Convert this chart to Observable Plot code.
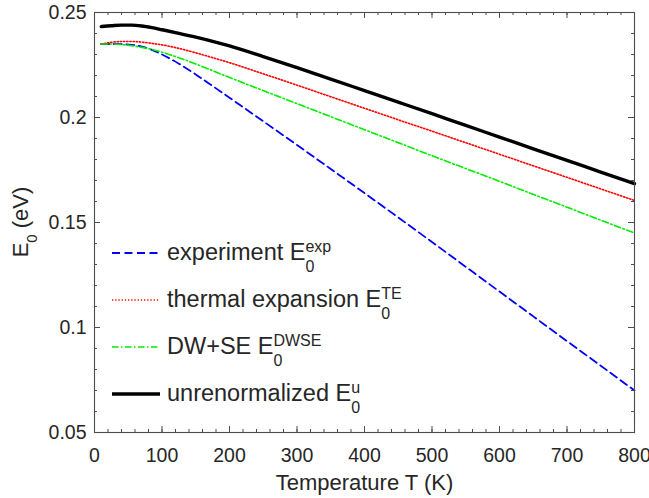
<!DOCTYPE html>
<html>
<head>
<meta charset="utf-8">
<script src="https://cdn.jsdelivr.net/npm/d3@7"></script>
<script src="https://cdn.jsdelivr.net/npm/@observablehq/plot@0.6"></script>
<style>
  body { margin: 0; background: #fff; }
</style>
</head>
<body>
<div id="chart"></div>
<script>
// Band-gap energy E0 versus temperature
const temperature = [10, 25, 40, 55, 70, 85, 100, 125, 150, 175, 200, 250, 300, 350, 400, 450, 500, 550, 600, 650, 700, 750, 800];
const eExperiment = [0.2350, 0.2350, 0.2349, 0.2346, 0.2338, 0.2322, 0.2300, 0.2256, 0.2205, 0.2150, 0.2094, 0.1982, 0.1869, 0.1755, 0.1640, 0.1524, 0.1407, 0.1289, 0.1171, 0.1053, 0.0935, 0.0818, 0.0700];
const eThermal = [0.2350, 0.2358, 0.2362, 0.2362, 0.2359, 0.2353, 0.2346, 0.2329, 0.2308, 0.2285, 0.2261, 0.2208, 0.2154, 0.2099, 0.2044, 0.1989, 0.1935, 0.1880, 0.1825, 0.1770, 0.1715, 0.1660, 0.1605];
const eDWSE = [0.2350, 0.2350, 0.2347, 0.2342, 0.2334, 0.2324, 0.2311, 0.2285, 0.2255, 0.2223, 0.2191, 0.2128, 0.2066, 0.2004, 0.1942, 0.1880, 0.1818, 0.1757, 0.1696, 0.1634, 0.1573, 0.1511, 0.1450];
const eUnrenormalized = [0.2433, 0.2437, 0.2440, 0.2440, 0.2436, 0.2428, 0.2418, 0.2401, 0.2383, 0.2363, 0.2341, 0.2290, 0.2237, 0.2183, 0.2128, 0.2073, 0.2018, 0.1962, 0.1907, 0.1851, 0.1796, 0.1740, 0.1685];

const seriesNames = ["experiment", "thermal expansion", "DW+SE", "unrenormalized"];
const seriesSuperscripts = ["exp", "TE", "DWSE", "u"];
const seriesValues = [eExperiment, eThermal, eDWSE, eUnrenormalized];

const xTicks = [0, 100, 200, 300, 400, 500, 600, 700, 800];
const xTickLabels = ["0", "100", "200", "300", "400", "500", "600", "700", "800"];
const yTicks = [0.05, 0.1, 0.15, 0.2, 0.25];
const yTickLabels = ["0.05", "0.1", "0.15", "0.2", "0.25"];
const xMinorTicks = d3.range(0, 801, 20);
const yMinorTicks = d3.range(5, 26).map(v => v / 100);

const xLabel = "Temperature T (K)";

// line styles (MATLAB-like)
const styles = [
  {stroke: "#0000ff", strokeWidth: 1.8, strokeDasharray: "8,4.5"},
  {stroke: "#ff0000", strokeWidth: 1.6, strokeDasharray: "1.3,1.9"},
  {stroke: "#00ee00", strokeWidth: 1.6, strokeDasharray: "6.5,2.5,1.5,2.5"},
  {stroke: "#000000", strokeWidth: 3.4, strokeDasharray: null}
];

const rows = seriesNames.flatMap((name, i) =>
  temperature.map((t, j) => ({series: name, T: t, E: seriesValues[i][j]}))
);

const W = 649, H = 498;
const mL = 94, mR = 15, mT = 12, mB = 66;
const plotW = W - mL - mR, plotH = H - mT - mB;
const axisColor = "#4d4d4d";
const textColor = "#262626";
const majorLen = 6, minorLen = 3;

const svg = Plot.plot({
  width: W,
  height: H,
  marginLeft: mL,
  marginRight: mR,
  marginTop: mT,
  marginBottom: mB,
  style: {fontFamily: "'Liberation Sans', Arial, Helvetica, sans-serif", fontSize: "19.5px", color: textColor, background: "#fff"},
  x: {domain: [0, 800], label: null},
  y: {domain: [0.05, 0.25], label: null},
  marks: [
    // data curves
    ...seriesNames.map((name, i) =>
      Plot.line(rows.filter(d => d.series === name), {
        x: "T", y: "E", curve: "monotone-x", ...styles[i]
      })
    ),
    // inward ticks on all four sides
    Plot.ruleX(xMinorTicks, {insetTop: plotH - minorLen, stroke: axisColor}),
    Plot.ruleX(xMinorTicks, {insetBottom: plotH - minorLen, stroke: axisColor}),
    Plot.ruleX(xTicks, {insetTop: plotH - majorLen, stroke: axisColor}),
    Plot.ruleX(xTicks, {insetBottom: plotH - majorLen, stroke: axisColor}),
    Plot.ruleY(yMinorTicks, {insetRight: plotW - minorLen, stroke: axisColor}),
    Plot.ruleY(yMinorTicks, {insetLeft: plotW - minorLen, stroke: axisColor}),
    Plot.ruleY(yTicks, {insetRight: plotW - majorLen, stroke: axisColor}),
    Plot.ruleY(yTicks, {insetLeft: plotW - majorLen, stroke: axisColor}),
    Plot.frame({stroke: axisColor, strokeWidth: 1.1}),
    // tick labels
    Plot.axisX(xTicks, {tickSize: 0, tickPadding: 16, tickFormat: d => xTickLabels[xTicks.indexOf(d)], label: null, fill: textColor}),
    Plot.axisY(yTicks, {tickSize: 0, tickPadding: 8, tickFormat: d => yTickLabels[yTicks.indexOf(d)], label: null, fill: textColor}),
    // x axis title
    Plot.text([xLabel], {frameAnchor: "bottom", dy: 57, fontSize: 22, fill: textColor})
  ]
});

document.getElementById("chart").appendChild(svg);

const root = d3.select(svg);

// y axis title with subscript
const yTitle = root.append("text")
  .attr("transform", `translate(28,${mT + plotH / 2}) rotate(-90)`)
  .attr("text-anchor", "middle")
  .attr("font-size", 22)
  .attr("fill", textColor);
yTitle.append("tspan").text("E");
yTitle.append("tspan").attr("font-size", 15).attr("dy", 9).text("0");
yTitle.append("tspan").attr("dy", -9).text(" (eV)");

// legend
const legend = root.append("g")
  .attr("font-size", 23.5)
  .attr("fill", textColor)
  .attr("text-anchor", "start");
const legendX0 = 112, legendX1 = 160, legendTextX = 167, legendY0 = 253, legendStep = 47;
seriesNames.forEach((name, i) => {
  const y = legendY0 + i * legendStep;
  legend.append("line")
    .attr("x1", legendX0).attr("x2", legendX1)
    .attr("y1", y).attr("y2", y)
    .attr("stroke", styles[i].stroke)
    .attr("stroke-width", styles[i].strokeWidth)
    .attr("stroke-dasharray", styles[i].strokeDasharray);
  const t = legend.append("text").attr("x", legendTextX).attr("y", y + 6.5);
  t.append("tspan").text(name + " E");
  const sub = t.append("tspan").attr("font-size", 16).attr("dy", 12).text("0");
  const subW = sub.node().getComputedTextLength();
  t.append("tspan").attr("font-size", 16).attr("dx", -subW).attr("dy", -20).text(seriesSuperscripts[i]);
});
</script>
</body>
</html>
